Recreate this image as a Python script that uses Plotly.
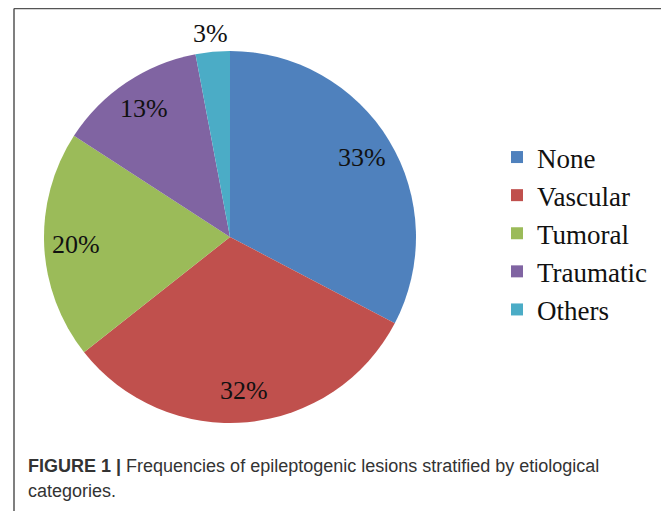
import math
import plotly.graph_objects as go

categories = ["None", "Vascular", "Tumoral", "Traumatic", "Others"]
percentages = [33, 32, 20, 13, 3]
colors = ["#4F81BD", "#C0504D", "#9BBB59", "#8064A2", "#4BACC6"]
label_inside = [True, True, True, True, False]
caption_line1 = "<b>FIGURE 1 |</b> Frequencies of epileptogenic lesions stratified by etiological"
caption_line2 = "categories."

# figure is drawn inside the page's 8px body margin
W, H = 661, 503
CX, CY, R = 222, 229, 186      # pie centre and radius in figure pixels
LABEL_R_IN = 0.83              # relative radius of the inside labels
LABEL_R_OUT = 1.1              # relative radius of the outside labels

label_font = dict(family="Liberation Serif", size=26, color="#111111")

fig = go.Figure(go.Pie(
    labels=categories,
    values=percentages,
    textinfo="none",
    marker=dict(colors=colors, line=dict(width=0)),
    sort=False,
    direction="clockwise",
    rotation=0,
    hoverinfo="label+percent",
    domain=dict(x=[(CX - R) / W, (CX + R) / W], y=[1 - (CY + R) / H, 1 - (CY - R) / H]),
))

# data labels placed along the mid-angle of each slice
annotations = []
total = sum(percentages)
cum = 0
for p, ins in zip(percentages, label_inside):
    mid = (cum + p / 2) / total * 2 * math.pi
    cum += p
    r = LABEL_R_IN if ins else LABEL_R_OUT
    x = CX + r * R * math.sin(mid)
    y = CY - r * R * math.cos(mid)
    annotations.append(dict(text=f"{p}%", xref="paper", yref="paper", x=x / W, y=1 - y / H,
                            xanchor="center", yanchor="middle", showarrow=False, font=label_font))

cap_font = dict(family="Liberation Sans, Arial", size=18, color="#333333")
annotations += [
    dict(text=caption_line1, xref="paper", yref="paper", x=18 / W, y=1 - 470 / H,
         xanchor="left", yanchor="bottom", showarrow=False, font=cap_font),
    dict(text=caption_line2, xref="paper", yref="paper", x=18 / W, y=1 - 495 / H,
         xanchor="left", yanchor="bottom", showarrow=False, font=cap_font),
]

border = dict(color="#555555", width=1.5)
fig.update_layout(
    width=W, height=H,
    margin=dict(l=0, r=0, t=0, b=0),
    paper_bgcolor="white",
    showlegend=True,
    legend=dict(
        x=489 / W, y=1 - 125 / H, xanchor="left", yanchor="top",
        font=dict(family="Liberation Serif", size=27, color="#111111"),
        bgcolor="rgba(0,0,0,0)",
        tracegroupgap=0,
    ),
    shapes=[
        dict(type="line", xref="paper", yref="paper", x0=6 / W, x1=6 / W, y0=-0.05, y1=1 - 0.5 / H, line=border),
        dict(type="line", xref="paper", yref="paper", x0=6 / W, x1=657 / W, y0=1 - 0.5 / H, y1=1 - 0.5 / H, line=border),
        dict(type="line", xref="paper", yref="paper", x0=657 / W, x1=657 / W, y0=-0.05, y1=1 - 0.5 / H, line=border),
    ],
    annotations=annotations,
)

fig.write_html("out.html")
